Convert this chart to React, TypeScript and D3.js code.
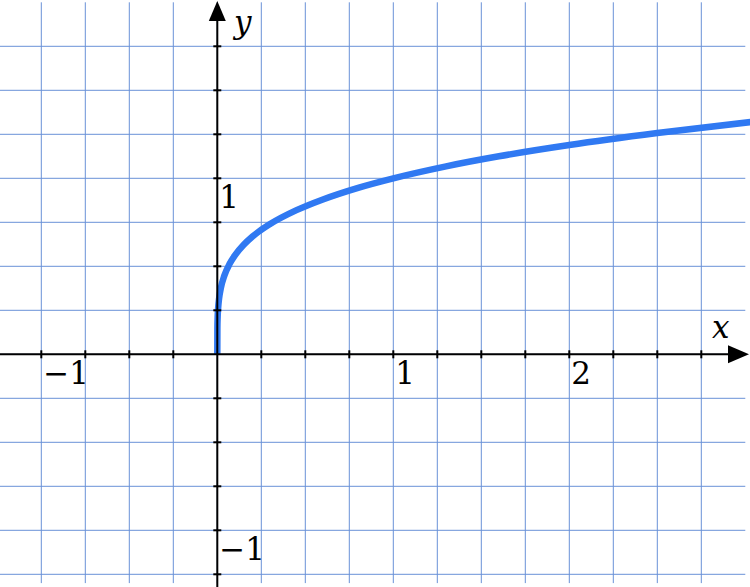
import React from "react";
import * as d3 from "d3";

const W = 750;
const H = 587;

// curve points (y ≈ fourth root of x)
const curveX = [0, 0.0005, 0.002, 0.005, 0.01, 0.02, 0.04, 0.07, 0.1, 0.15, 0.2, 0.3, 0.45, 0.6, 0.8, 1, 1.3, 1.6, 2, 2.5, 3.05];
const curveY = [0, 0.15, 0.211, 0.266, 0.316, 0.376, 0.447, 0.514, 0.562, 0.622, 0.669, 0.74, 0.819, 0.88, 0.946, 1, 1.068, 1.125, 1.189, 1.257, 1.322];

const gridX = [-1.25, -1, -0.75, -0.5, -0.25, 0, 0.25, 0.5, 0.75, 1, 1.25, 1.5, 1.75, 2, 2.25, 2.5, 2.75];
const gridY = [-1.25, -1, -0.75, -0.5, -0.25, 0, 0.25, 0.5, 0.75, 1, 1.25, 1.5, 1.75];
const tickX = [-1.25, -1, -0.75, -0.5, -0.25, 0.25, 0.5, 0.75, 1, 1.25, 1.5, 1.75, 2, 2.25, 2.5, 2.75];
const tickY = [-1.25, -1, -0.75, -0.5, -0.25, 0.25, 0.5, 0.75, 1, 1.25, 1.5, 1.75];
const xLabels = [-1, 1, 2];
const yLabels = [1, -1];

const x = d3.scaleLinear().domain([0, 1]).range([217.3, 393.3]);
const y = d3.scaleLinear().domain([0, 1]).range([354.3, 178.3]);

const gridColor = "#6a92d8";
const curveColor = "#3079f2";
const font = "'DejaVu Serif', serif";

const fmt = (v: number) => (v < 0 ? "\u2212" + Math.abs(v) : String(v));

export default function App() {
  const pts: [number, number][] = curveX.map((v, i) => [v, curveY[i]]);
  const line = d3
    .line<[number, number]>()
    .x((d) => x(d[0]))
    .y((d) => y(d[1]))
    .curve(d3.curveMonotoneX);

  const gx0 = 0;
  const gx1 = x(3);
  const gy0 = y(2);
  const gy1 = y(-1.3);

  return (
    <div style={{ position: "absolute", left: 0, top: 0 }}>
      <svg width={W} height={H} style={{ display: "block", background: "#fff" }}>
        <g>
          {gridX.map((v) => (
            <line key={"gx" + v} x1={x(v)} x2={x(v)} y1={gy0} y2={gy1} stroke={gridColor} strokeWidth={1} />
          ))}
          {gridY.map((v) => (
            <line key={"gy" + v} x1={gx0} x2={gx1} y1={y(v)} y2={y(v)} stroke={gridColor} strokeWidth={1} />
          ))}
        </g>
        <path d={line(pts) || ""} fill="none" stroke={curveColor} strokeWidth={6.5} strokeLinecap="butt" />
        <line x1={0} x2={730} y1={y(0)} y2={y(0)} stroke="#000" strokeWidth={2} />
        <path d={`M749,${y(0)} L728,${y(0) - 9} L728,${y(0) + 9} Z`} fill="#000" />
        <line x1={x(0)} x2={x(0)} y1={H} y2={20} stroke="#000" strokeWidth={2} />
        <path d={`M${x(0)},1 L${x(0) - 8.5},21 L${x(0) + 8.5},21 Z`} fill="#000" />
        {tickX.map((v) => (
          <line key={"tx" + v} x1={x(v)} x2={x(v)} y1={y(0) - 4} y2={y(0) + 4} stroke="#000" strokeWidth={2} />
        ))}
        {tickY.map((v) => (
          <line key={"ty" + v} x1={x(0) - 4} x2={x(0) + 4} y1={y(v)} y2={y(v)} stroke="#000" strokeWidth={2} />
        ))}
        {xLabels.map((v) => (
          <text key={"xl" + v} x={x(v) + 2} y={y(0) + 30} fontFamily={font} fontSize={31} fill="#000">
            {fmt(v)}
          </text>
        ))}
        {yLabels.map((v) => (
          <text key={"yl" + v} x={x(0) + 2} y={y(v) + 30} fontFamily={font} fontSize={31} fill="#000">
            {fmt(v)}
          </text>
        ))}
        <text x={712} y={338} fontFamily={font} fontSize={31} fontStyle="italic" fill="#000">
          x
        </text>
        <text x={234} y={33} fontFamily={font} fontSize={31} fontStyle="italic" fill="#000">
          y
        </text>
      </svg>
    </div>
  );
}
